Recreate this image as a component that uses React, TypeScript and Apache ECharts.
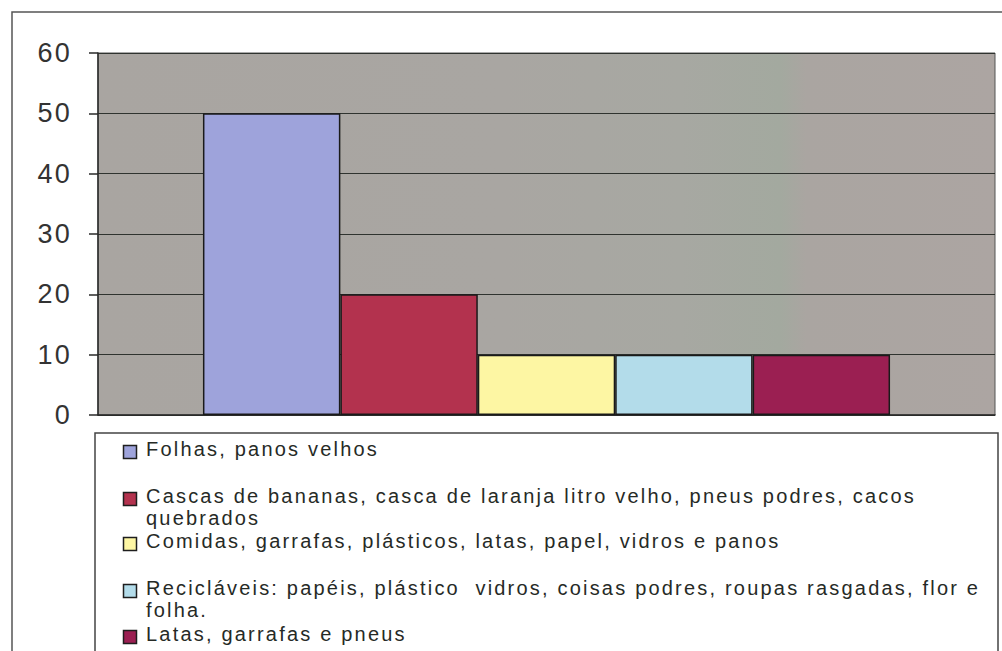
import React, { useEffect, useRef } from "react";
import * as echarts from "echarts";

const categories = [""];
const seriesNames = [
  "Folhas, panos velhos",
  "Cascas de bananas, casca de laranja litro velho, pneus podres, cacos\nquebrados",
  "Comidas, garrafas, plásticos, latas, papel, vidros e panos",
  "Recicláveis: papéis, plástico  vidros, coisas podres, roupas rasgadas, flor e\nfolha.",
  "Latas, garrafas e pneus",
];
const seriesValues = [50, 20, 10, 10, 10];
const seriesColors = ["#9ea3db", "#b3324e", "#fdf6a3", "#b3dcea", "#9b1f52"];
const yTicks = { min: 0, max: 60, interval: 10 };

const legendIconCenters = [452, 499, 544, 591, 637];

export default function App() {
  const ref = useRef<HTMLDivElement>(null);
  useEffect(() => {
    if (!ref.current) return;
    const chart = echarts.init(ref.current, null, { renderer: "svg" });
    const legendGraphics: any[] = [];
    seriesNames.forEach((name, i) => {
      const cy = legendIconCenters[i];
      legendGraphics.push({
        type: "rect",
        shape: { x: 123.5, y: cy - 6.5, width: 13, height: 13 },
        style: { fill: seriesColors[i], stroke: "#1e1e1e", lineWidth: 1.5 },
        z: 10,
      });
      legendGraphics.push({
        type: "text",
        x: 146,
        y: cy - 3 - 11,
        style: {
          text: name,
          font: "20px 'Liberation Sans', Arial, sans-serif",
          fill: "#262a26",
          lineHeight: 22,
          verticalAlign: "top",
          align: "left",
        },
        z: 10,
      });
    });
    chart.setOption({
      animation: false,
      backgroundColor: "#ffffff",
      grid: {
        left: 98,
        right: 7,
        top: 53,
        bottom: 236,
        show: true,
        borderColor: "#555",
        borderWidth: 1,
        backgroundColor: {
          type: "linear",
          x: 0,
          y: 0,
          x2: 1,
          y2: 0,
          colorStops: [
            { offset: 0, color: "#a9a5a1" },
            { offset: 0.45, color: "#a9a6a2" },
            { offset: 0.65, color: "#a7a8a2" },
            { offset: 0.76, color: "#a3a99f" },
            { offset: 0.79, color: "#aaa5a1" },
            { offset: 1, color: "#aca5a2" },
          ],
        },
      },
      xAxis: {
        type: "category",
        data: categories,
        axisLine: { show: true, lineStyle: { color: "#2a2a2a", width: 1.5 } },
        axisTick: { show: false },
        axisLabel: { show: false },
      },
      yAxis: {
        type: "value",
        min: yTicks.min,
        max: yTicks.max,
        interval: yTicks.interval,
        axisLine: { show: true, lineStyle: { color: "#2a2a2a", width: 1.5 } },
        axisTick: { show: true, length: 9, lineStyle: { color: "#2a2a2a", width: 1.5 } },
        axisLabel: {
          margin: 26,
          fontSize: 27,
          color: "#333",
          fontFamily: "'Liberation Sans', Arial, sans-serif",
        },
        splitLine: { show: true, lineStyle: { color: "#2f332f", width: 1.2 } },
      },
      series: seriesNames.map((name, i) => ({
        type: "bar",
        name,
        data: [seriesValues[i]],
        barGap: "0%",
        barCategoryGap: "23.4%",
        itemStyle: { color: seriesColors[i], borderColor: "#1a1a1a", borderWidth: 1.5 },
      })),
      graphic: [
        {
          type: "rect",
          shape: { x: 12, y: 12, width: 1100, height: 800 },
          style: { fill: "none", stroke: "#555", lineWidth: 1.5 },
          z: 1,
        },
        {
          type: "rect",
          shape: { x: 95, y: 433, width: 903, height: 300 },
          style: { fill: "#ffffff", stroke: "#444", lineWidth: 1.5 },
          z: 5,
        },
        ...legendGraphics,
      ],
    });
    return () => chart.dispose();
  }, []);
  return (
    <div
      ref={ref}
      style={{ width: 1002, height: 651, position: "absolute", left: 0, top: 0, letterSpacing: "2.2px" }}
    />
  );
}
